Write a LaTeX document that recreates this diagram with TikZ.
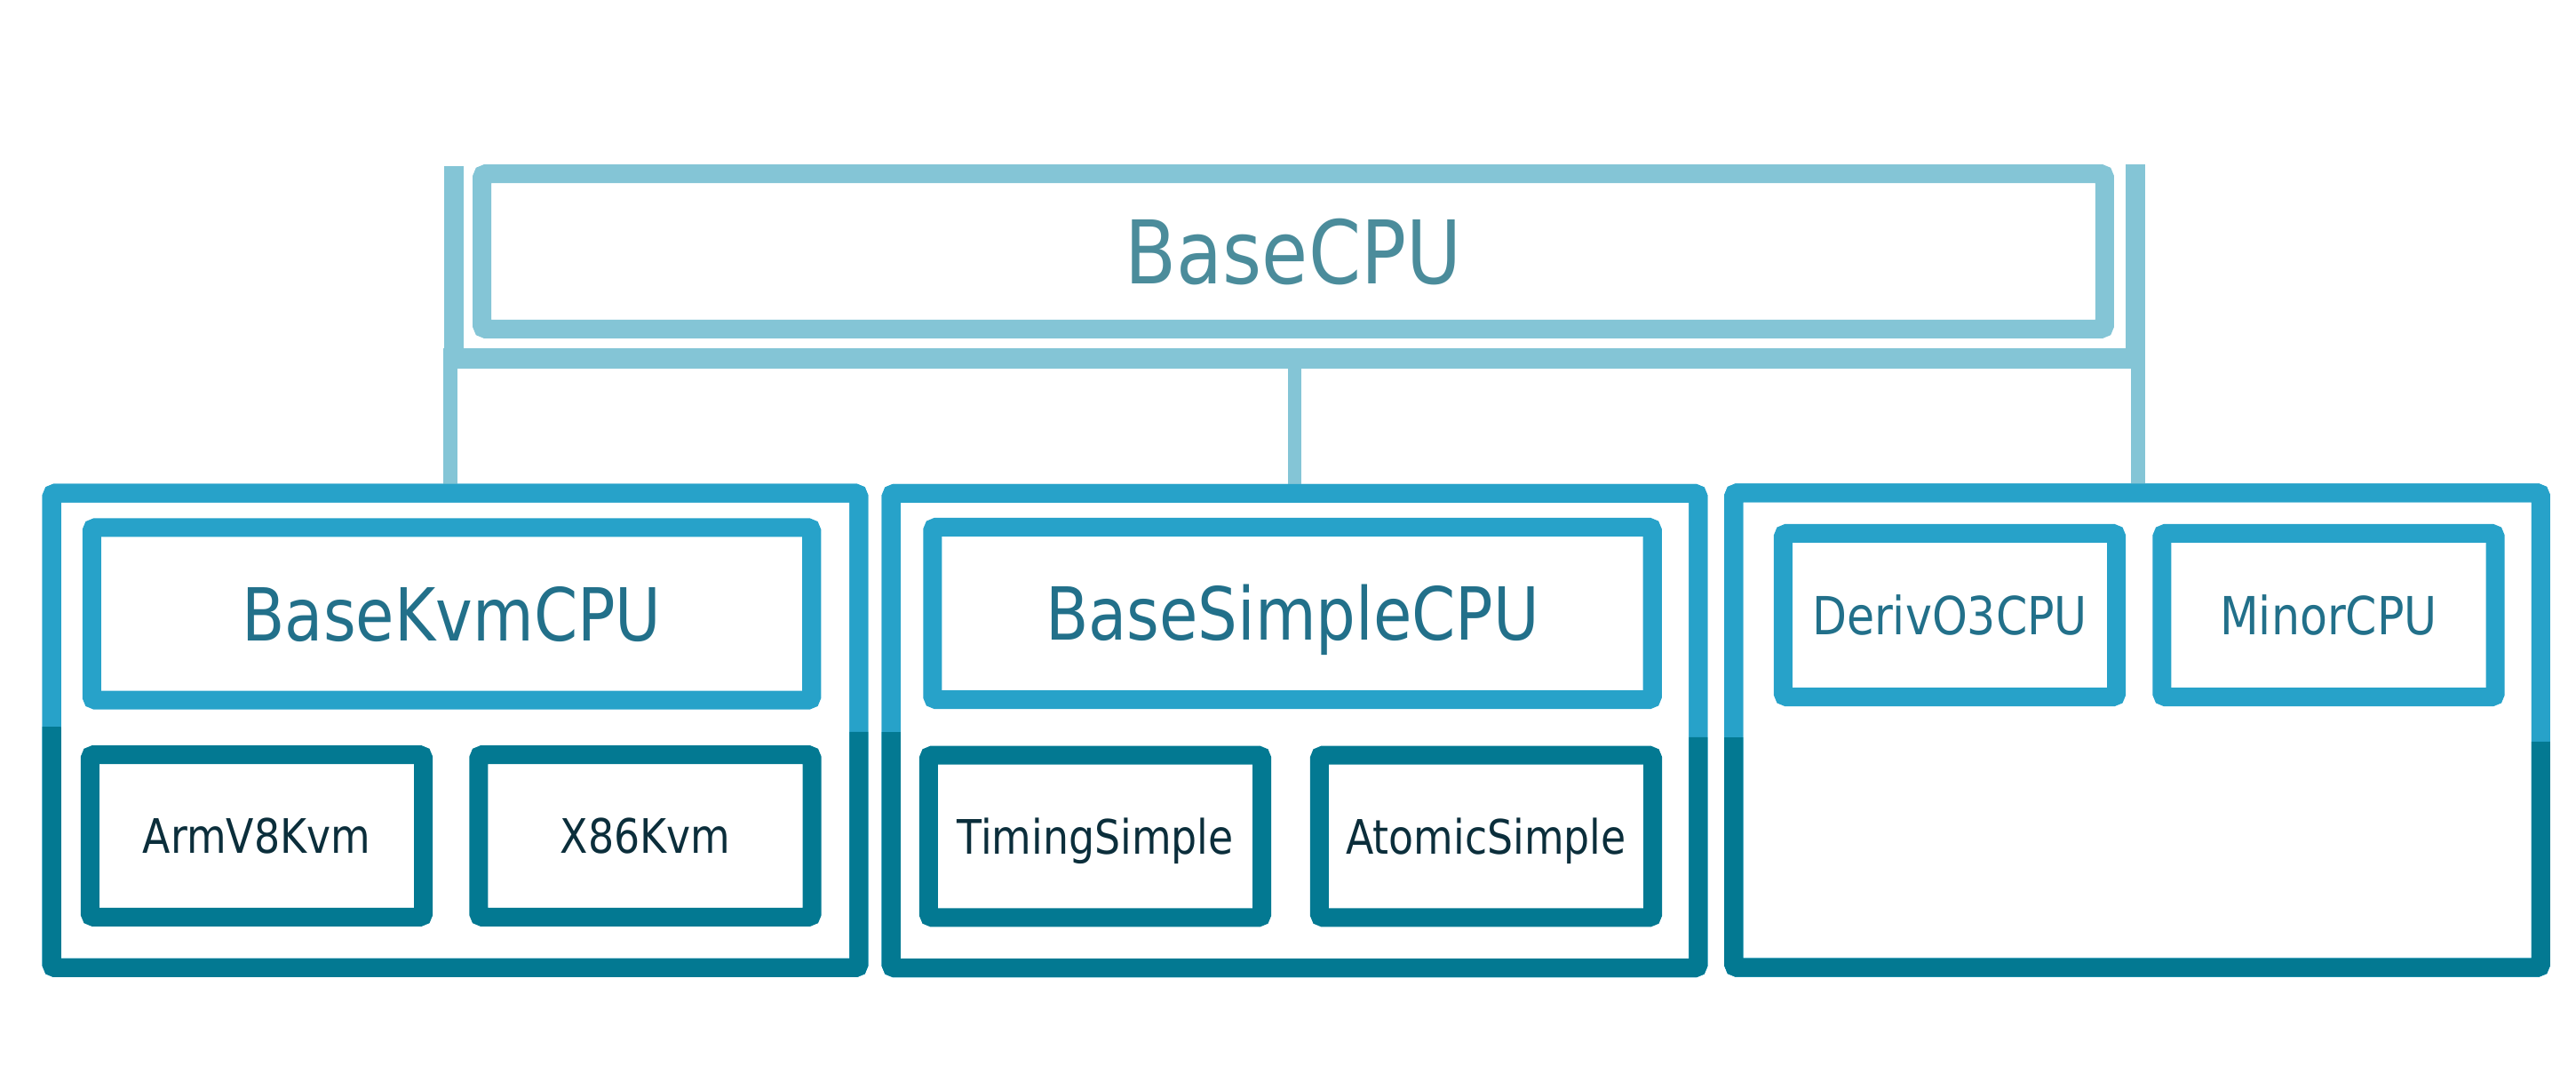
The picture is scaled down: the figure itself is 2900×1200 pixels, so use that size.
\documentclass[tikz,border=0pt]{standalone}
\usepackage{fontspec}
\setmainfont{DejaVu Sans}
\usepackage{graphicx}
\definecolor{cpulight}{HTML}{84C5D6}
\definecolor{cpublue}{HTML}{27A2C9}
\definecolor{cputeal}{HTML}{037992}
\definecolor{txtbase}{HTML}{4B8C9B}
\definecolor{txtmid}{HTML}{22708A}
\definecolor{txtleaf}{HTML}{0B2E3B}
\newcommand\sqz[1]{\scalebox{0.857}[1]{#1}}
\begin{document}
\begin{tikzpicture}[x=0.01cm,y=-0.01cm,
  frame/.style={draw, line width=5.98pt, rounded corners=0.04cm, inner sep=0pt, outer sep=0pt, text depth=0pt, align=center},
  basebox/.style={frame, draw=cpulight, text=txtbase, font=\fontsize{28.1pt}{34pt}\selectfont, text height=20.5pt, minimum width=18.255cm, minimum height=1.745cm},
  container/.style={frame, draw=cpublue, minimum width=9.08cm, minimum height=5.34cm},
  tealpart/.style={draw=cputeal, line width=5.98pt, rounded corners=0.04cm},
  topbig/.style={frame, draw=cpublue, text=txtmid, font=\fontsize{23.4pt}{28pt}\selectfont, text height=17.07pt, minimum width=8.1cm, minimum height=1.94cm},
  topsmall/.style={frame, draw=cpublue, text=txtmid, font=\fontsize{16.8pt}{20pt}\selectfont, text height=12.23pt, minimum width=3.75cm, minimum height=1.84cm},
  leaf/.style={frame, draw=cputeal, text=txtleaf, font=\fontsize{15.2pt}{18pt}\selectfont, text height=11.1pt, minimum width=3.75cm, minimum height=1.825cm},
  conn/.style={draw=cpulight},
]
\useasboundingbox (0,0) rectangle (2900,1200);

% hierarchy nodes
\node[basebox] (base) at (1456,283) {\sqz{BaseCPU}};
\node[container] (b1) at (512.5,822.3) {};
\node[container] (b2) at (1457.5,822.5) {};
\node[container] (b3) at (2406,822) {};

% connectors
\coordinate (topL) at (510.5,187);
\coordinate (barLup) at (510.5,404);
\coordinate (topR) at (2404,185);
\coordinate (barRup) at (2404,404);
\coordinate (barL) at (499,403.5);
\coordinate (barR) at (2415,403.5);
\coordinate (jL) at (507,404);
\coordinate (jM) at (1457.5,404);
\coordinate (jR) at (2407,404);
\draw[conn, line width=6.26pt] (topL) -- (barLup);
\draw[conn, line width=6.26pt] (topR) -- (barRup);
\draw[conn, line width=6.54pt] (barL) -- (barR);
\draw[conn, line width=4.55pt] (jL) -- (jL |- b1.north);
\draw[conn, line width=4.27pt] (jM) -- (b2.north);
\draw[conn, line width=4.55pt] (jR) -- (jR |- b3.north);

% redraw containers on top of connector ends
\node[container] at (b1.center) {};
\node[container] at (b2.center) {};
\node[container] at (b3.center) {};

% lower teal half of each container
\begin{scope}
  \clip (30,818) -- (985,824) -- (985,1120) -- (30,1120) -- cycle;
  \draw[tealpart] (b1.north west) rectangle (b1.south east);
\end{scope}
\begin{scope}
  \clip (985,824) -- (1932,830) -- (1932,1120) -- (985,1120) -- cycle;
  \draw[tealpart] (b2.north west) rectangle (b2.south east);
\end{scope}
\begin{scope}
  \clip (1932,830) -- (2890,835) -- (2890,1120) -- (1932,1120) -- cycle;
  \draw[tealpart] (b3.north west) rectangle (b3.south east);
\end{scope}

% inner boxes
\node[topbig] (kvm) at (508.5,691) {\sqz{BaseKvmCPU}};
\node[topbig] (simple) at (1455,690.5) {\sqz{BaseSimpleCPU}};
\node[topsmall] (o3) at (2195,692.5) {\sqz{DerivO3CPU}};
\node[topsmall] (minor) at (2621.5,692.5) {\sqz{MinorCPU}};
\node[leaf] (arm) at (289,941) {\sqz{ArmV8Kvm}};
\node[leaf] (x86) at (726.5,941) {\sqz{X86Kvm}};
\node[leaf] (timing) at (1233,941.5) {\sqz{TimingSimple}};
\node[leaf] (atomic) at (1673,941.5) {\sqz{AtomicSimple}};
\end{tikzpicture}
\end{document}
